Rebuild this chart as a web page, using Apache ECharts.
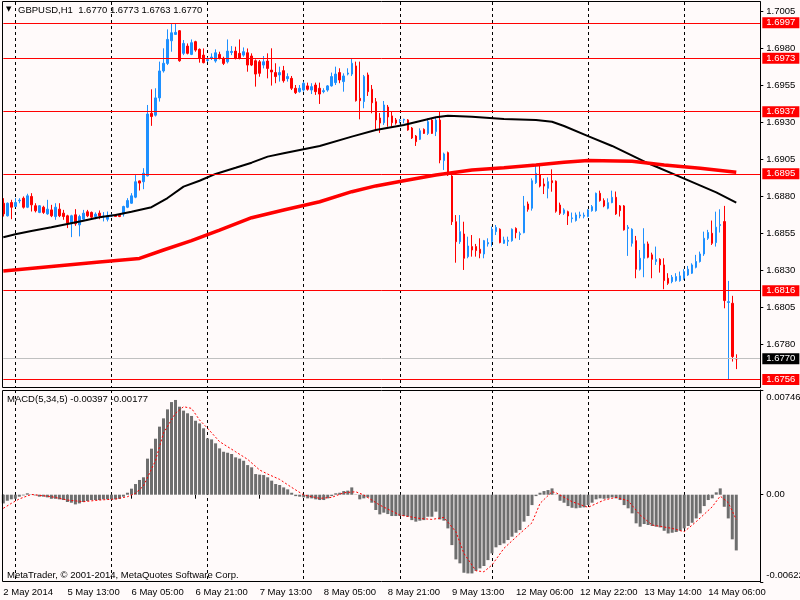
<!DOCTYPE html>
<html><head><meta charset="utf-8">
<script src="https://cdn.jsdelivr.net/npm/echarts@6/dist/echarts.min.js"></script>
<style>html,body{margin:0;padding:0;background:#fffafa}#c{width:800px;height:600px}</style>
</head><body><div id="c"></div>
<script>
const symbolName = 'GBPUSD,H1';
const macdParams = '5,34,5';
const footerText = 'MetaTrader, \u00A9 2001-2014, MetaQuotes Software Corp.';
// trading sessions: [day, first hour, last hour]; the last 6 hours of 14 May are empty chart shift
const sessions = [['2 May',20,22],['5 May',0,23],['6 May',0,23],['7 May',0,23],['8 May',0,23],['9 May',0,22],['12 May',0,23],['13 May',0,23],['14 May',0,19]];
const xTickIdx = [0,16,32,48,64,80,96,112,128,144,160,176];
const xTickLabels = ['2 May 2014','5 May 13:00','6 May 05:00','6 May 21:00','7 May 13:00','8 May 05:00','8 May 21:00','9 May 13:00','12 May 06:00','12 May 22:00','13 May 14:00','14 May 06:00'];
const dayStartIdx = [3,27,51,75,99,122,146,170];
const priceTicks = [1.7005,1.6980,1.6955,1.6930,1.6905,1.6880,1.6855,1.6830,1.6805,1.6780];
const levels = [1.6997,1.6973,1.6937,1.6895,1.6816,1.6756];
const macdTicks = [0.00746,0,-0.00622];
const macdTickLabels = ['0.00746','0.00','-0.00622'];
// [open, high, low, close]
const candles = [
[1.68751,1.68785,1.68661,1.68679],[1.68666,1.68756,1.68661,1.68751],[1.68756,1.68774,1.68643,1.68724],[1.68729,1.68785,1.68724,1.68756],[1.68767,1.68785,1.68751,1.68772],
[1.68785,1.68797,1.68715,1.68724],[1.68724,1.68815,1.68718,1.68801],[1.68797,1.68819,1.68695,1.68740],[1.68734,1.68751,1.68689,1.68700],[1.68689,1.68738,1.68684,1.68734],
[1.68724,1.68734,1.68679,1.68689],[1.68679,1.68774,1.68673,1.68711],[1.68706,1.68740,1.68657,1.68666],[1.68661,1.68751,1.68639,1.68724],[1.68711,1.68751,1.68657,1.68666],
[1.68684,1.68706,1.68639,1.68661],[1.68666,1.68673,1.68583,1.68617],[1.68612,1.68673,1.68522,1.68666],[1.68673,1.68711,1.68598,1.68612],[1.68605,1.68673,1.68527,1.68661],
[1.68643,1.68706,1.68639,1.68684],[1.68693,1.68706,1.68657,1.68666],[1.68689,1.68695,1.68643,1.68657],[1.68661,1.68689,1.68643,1.68677],[1.68684,1.68702,1.68643,1.68666],
[1.68659,1.68691,1.68628,1.68664],[1.68643,1.68695,1.68628,1.68666],[1.68664,1.68679,1.68657,1.68668],[1.68673,1.68675,1.68659,1.68661],[1.68670,1.68675,1.68657,1.68661],
[1.68679,1.68734,1.68661,1.68729],[1.68724,1.68785,1.68718,1.68769],[1.68751,1.68819,1.68747,1.68801],[1.68792,1.68941,1.68785,1.68896],[1.68902,1.68904,1.68837,1.68887],
[1.68896,1.68988,1.68846,1.68954],[1.68936,1.69415,1.68932,1.69354],[1.69359,1.69521,1.69274,1.69337],[1.69346,1.69528,1.69337,1.69463],[1.69463,1.69708,1.69438,1.69645],
[1.69645,1.69798,1.69634,1.69697],[1.69696,1.69926,1.69685,1.69858],[1.69849,1.69962,1.69775,1.69903],[1.69892,1.69962,1.69888,1.69906],[1.69917,1.69921,1.69707,1.69714],
[1.69764,1.69854,1.69752,1.69831],[1.69813,1.69831,1.69757,1.69764],[1.69757,1.69858,1.69752,1.69836],[1.69843,1.69849,1.69775,1.69786],[1.69791,1.69797,1.69701,1.69730],
[1.69752,1.69797,1.69696,1.69701],[1.69716,1.69737,1.69705,1.69721],[1.69732,1.69764,1.69719,1.69739],[1.69712,1.69791,1.69701,1.69768],[1.69757,1.69775,1.69723,1.69730],
[1.69730,1.69741,1.69685,1.69696],[1.69707,1.69858,1.69696,1.69779],[1.69770,1.69813,1.69752,1.69777],[1.69779,1.69809,1.69723,1.69730],[1.69764,1.69858,1.69723,1.69730],
[1.69752,1.69804,1.69741,1.69775],[1.69768,1.69797,1.69640,1.69685],[1.69746,1.69764,1.69678,1.69685],[1.69714,1.69723,1.69539,1.69624],[1.69707,1.69719,1.69606,1.69629],
[1.69685,1.69746,1.69662,1.69707],[1.69712,1.69764,1.69595,1.69662],[1.69651,1.69798,1.69546,1.69638],[1.69634,1.69697,1.69562,1.69607],[1.69618,1.69674,1.69573,1.69634],
[1.69647,1.69679,1.69566,1.69579],[1.69593,1.69629,1.69573,1.69607],[1.69595,1.69611,1.69516,1.69528],[1.69528,1.69550,1.69489,1.69498],[1.69505,1.69550,1.69498,1.69528],
[1.69516,1.69573,1.69505,1.69562],[1.69544,1.69566,1.69512,1.69521],[1.69516,1.69562,1.69489,1.69539],[1.69550,1.69566,1.69483,1.69505],[1.69528,1.69566,1.69422,1.69489],
[1.69505,1.69528,1.69494,1.69512],[1.69516,1.69550,1.69505,1.69544],[1.69544,1.69634,1.69539,1.69607],[1.69566,1.69674,1.69550,1.69624],[1.69634,1.69663,1.69562,1.69584],
[1.69573,1.69629,1.69505,1.69611],[1.69624,1.69663,1.69615,1.69631],[1.69624,1.69730,1.69611,1.69697],[1.69679,1.69708,1.69438,1.69444],[1.69460,1.69708,1.69318,1.69444],
[1.69438,1.69618,1.69393,1.69607],[1.69618,1.69634,1.69476,1.69505],[1.69521,1.69550,1.69359,1.69430],[1.69437,1.69462,1.69240,1.69314],[1.69327,1.69361,1.69226,1.69293],
[1.69295,1.69442,1.69280,1.69415],[1.69401,1.69415,1.69268,1.69334],[1.69341,1.69370,1.69268,1.69295],[1.69314,1.69327,1.69282,1.69293],[1.69309,1.69320,1.69291,1.69313],
[1.69313,1.69322,1.69291,1.69318],[1.69314,1.69320,1.69241,1.69246],[1.69259,1.69266,1.69185,1.69192],[1.69205,1.69212,1.69138,1.69167],[1.69183,1.69257,1.69178,1.69241],
[1.69250,1.69257,1.69219,1.69223],[1.69223,1.69325,1.69212,1.69302],[1.69313,1.69325,1.69219,1.69223],[1.69235,1.69331,1.69205,1.69313],[1.69313,1.69370,1.69021,1.69043],
[1.69039,1.69093,1.68976,1.69084],[1.69093,1.69100,1.68935,1.68942],[1.68935,1.68942,1.68604,1.68626],[1.68626,1.68671,1.68349,1.68491],[1.68491,1.68671,1.68476,1.68559],
[1.68543,1.68626,1.68300,1.68379],[1.68390,1.68525,1.68379,1.68462],[1.68458,1.68536,1.68390,1.68435],[1.68458,1.68476,1.68390,1.68431],[1.68440,1.68514,1.68379,1.68413],
[1.68408,1.68503,1.68379,1.68498],[1.68476,1.68514,1.68458,1.68485],[1.68491,1.68593,1.68458,1.68575],[1.68559,1.68604,1.68536,1.68588],[1.68575,1.68581,1.68480,1.68485],
[1.68480,1.68525,1.68476,1.68503],[1.68494,1.68525,1.68462,1.68500],[1.68498,1.68581,1.68491,1.68575],[1.68581,1.68588,1.68514,1.68552],[1.68539,1.68559,1.68503,1.68545],
[1.68552,1.68800,1.68548,1.68732],[1.68746,1.68762,1.68694,1.68710],[1.68717,1.68919,1.68701,1.68903],[1.68890,1.69016,1.68881,1.68953],[1.68942,1.69003,1.68858,1.68867],
[1.68881,1.68919,1.68813,1.68867],[1.68852,1.68926,1.68784,1.68897],[1.68903,1.68980,1.68829,1.68890],[1.68900,1.68905,1.68687,1.68697],[1.68739,1.68755,1.68672,1.68683],
[1.68683,1.68717,1.68672,1.68706],[1.68694,1.68701,1.68604,1.68665],[1.68647,1.68688,1.68620,1.68652],[1.68634,1.68688,1.68627,1.68672],[1.68665,1.68694,1.68649,1.68672],
[1.68663,1.68688,1.68649,1.68670],[1.68661,1.68710,1.68656,1.68706],[1.68701,1.68739,1.68694,1.68728],[1.68701,1.68823,1.68694,1.68818],[1.68818,1.68836,1.68762,1.68769],
[1.68769,1.68784,1.68724,1.68733],[1.68717,1.68784,1.68710,1.68755],[1.68755,1.68836,1.68751,1.68791],[1.68791,1.68830,1.68672,1.68679],[1.68733,1.68739,1.68661,1.68701],
[1.68733,1.68739,1.68566,1.68571],[1.68580,1.68604,1.68395,1.68589],[1.68480,1.68582,1.68458,1.68575],[1.68498,1.68530,1.68244,1.68305],[1.68305,1.68435,1.68296,1.68379],
[1.68379,1.68582,1.68251,1.68476],[1.68476,1.68492,1.68379,1.68386],[1.68402,1.68417,1.68244,1.68372],[1.68357,1.68458,1.68334,1.68372],[1.68372,1.68379,1.68282,1.68334],
[1.68334,1.68379,1.68170,1.68228],[1.68244,1.68278,1.68199,1.68210],[1.68221,1.68266,1.68210,1.68251],[1.68228,1.68278,1.68221,1.68255],[1.68228,1.68289,1.68221,1.68260],
[1.68244,1.68305,1.68233,1.68289],[1.68266,1.68327,1.68260,1.68305],[1.68278,1.68345,1.68273,1.68334],[1.68318,1.68402,1.68311,1.68357],[1.68357,1.68424,1.68350,1.68408],
[1.68408,1.68559,1.68395,1.68514],[1.68514,1.68571,1.68503,1.68553],[1.68548,1.68634,1.68469,1.68480],[1.68485,1.68694,1.68458,1.68589],[1.68600,1.68710,1.68553,1.68607],
[1.68627,1.68733,1.68041,1.68093],[1.68080,1.68226,1.67562,1.68086],[1.68075,1.68125,1.67681,1.67715],[1.67700,1.67730,1.67630,1.67700]
];
// moving averages read at sample bars: [bar index, value]
const maBlack = [[0,1.68521],[3,1.68541],[7,1.68564],[12,1.68588],[16,1.68611],[20,1.68633],[24,1.68656],[28,1.68672],[32,1.68694],[37,1.68724],[41,1.68786],[45,1.68863],[49,1.68903],[53,1.68949],[58,1.68991],[62,1.69025],[66,1.69066],[70,1.69089],[79,1.69138],[87,1.69201],[93,1.69246],[100,1.69280],[108,1.69332],[111,1.69343],[117,1.69336],[125,1.69320],[133,1.69314],[137,1.69302],[140,1.69273],[146,1.69205],[152,1.69138],[161,1.69021],[170,1.68917],[178,1.68824],[183,1.68755]];
const maRed = [[0,1.68293],[12,1.68324],[24,1.68354],[34,1.68378],[40,1.68435],[47,1.68498],[54,1.68570],[62,1.68653],[70,1.68705],[79,1.68761],[87,1.68829],[93,1.68868],[100,1.68903],[108,1.68942],[117,1.68976],[125,1.68991],[133,1.69009],[140,1.69028],[146,1.69039],[157,1.69034],[165,1.69009],[174,1.68987],[183,1.68960]];
const macdHist = [
-0.00062,-0.00043,-0.00033,-0.00029,-0.00014,-0.00005,0.00010,0.00002,-0.00005,-0.00014,
-0.00014,-0.00019,-0.00029,-0.00029,-0.00033,-0.00038,-0.00052,-0.00057,-0.00069,-0.00062,
-0.00052,-0.00045,-0.00038,-0.00038,-0.00038,-0.00033,-0.00033,-0.00033,-0.00033,-0.00029,
-0.00014,0.00014,0.00043,0.00076,0.00105,0.00124,0.00257,0.00328,0.00399,0.00485,
0.00544,0.00608,0.00660,0.00675,0.00627,0.00599,0.00580,0.00561,0.00527,0.00508,
0.00473,0.00401,0.00394,0.00366,0.00330,0.00306,0.00299,0.00290,0.00266,0.00257,
0.00242,0.00211,0.00195,0.00147,0.00143,0.00140,0.00124,0.00100,0.00076,0.00069,
0.00052,0.00038,0.00014,-0.00010,-0.00014,-0.00019,-0.00026,-0.00026,-0.00033,-0.00038,
-0.00038,-0.00026,-0.00010,0.00010,0.00014,0.00026,0.00029,0.00052,-0.00002,-0.00033,
-0.00026,-0.00019,-0.00057,-0.00109,-0.00140,-0.00128,-0.00138,-0.00152,-0.00152,-0.00152,
-0.00152,-0.00157,-0.00181,-0.00192,-0.00185,-0.00181,-0.00157,-0.00157,-0.00121,-0.00176,
-0.00185,-0.00240,-0.00359,-0.00461,-0.00489,-0.00556,-0.00561,-0.00561,-0.00542,-0.00525,
-0.00508,-0.00466,-0.00418,-0.00375,-0.00359,-0.00347,-0.00323,-0.00299,-0.00271,-0.00252,
-0.00192,-0.00152,-0.00074,-0.00010,0.00014,0.00026,0.00033,0.00045,-0.00002,-0.00043,
-0.00057,-0.00081,-0.00093,-0.00097,-0.00093,-0.00090,-0.00074,-0.00057,-0.00033,-0.00026,
-0.00029,-0.00026,-0.00019,-0.00026,-0.00038,-0.00074,-0.00097,-0.00133,-0.00204,-0.00228,
-0.00209,-0.00216,-0.00223,-0.00228,-0.00233,-0.00257,-0.00276,-0.00271,-0.00266,-0.00257,
-0.00240,-0.00223,-0.00200,-0.00169,-0.00133,-0.00081,-0.00038,-0.00026,0.00017,0.00045,
-0.00086,-0.00169,-0.00318,-0.00397
];
const macdSignal = [[0,-0.00097],[2,-0.00062],[4,-0.00030],[7,0.00002],[12,-0.00014],[16,-0.00038],[20,-0.00050],[24,-0.00038],[28,-0.00031],[31,-0.00014],[33,0.00010],[35,0.00062],[38,0.00243],[40,0.00440],[43,0.00580],[45,0.00627],[47,0.00615],[49,0.00532],[51,0.00473],[54,0.00378],[58,0.00306],[61,0.00252],[64,0.00176],[66,0.00147],[69,0.00109],[72,0.00052],[75,-0.00002],[79,-0.00026],[82,-0.00019],[85,0.00014],[88,0.00021],[90,-0.00002],[94,-0.00074],[99,-0.00145],[104,-0.00169],[107,-0.00176],[110,-0.00162],[113,-0.00264],[115,-0.00418],[118,-0.00542],[120,-0.00549],[122,-0.00501],[125,-0.00382],[129,-0.00276],[132,-0.00200],[134,-0.00062],[137,0.00021],[138,0.00014],[142,-0.00050],[146,-0.00090],[150,-0.00038],[153,-0.00019],[156,-0.00043],[159,-0.00145],[162,-0.00216],[167,-0.00240],[170,-0.00264],[173,-0.00192],[177,-0.00086],[179,-0.00010],[181,-0.00057],[183,-0.00177]];

const categories = [];
sessions.forEach(([d,h0,h1]) => { for (let h = h0; h <= h1; h++) categories.push(d + ' ' + String(h).padStart(2,'0') + ':00'); });
const lastBar = candles[candles.length - 1];
const bid = lastBar[3];
const FONT = 'Liberation Sans, Arial, sans-serif';
const FS = 9.5;
const isTick = i => xTickIdx.includes(i);
const isDay = i => dayStartIdx.includes(i);
const dashed = {color:'#000', type:[3,3], width:1};
const txt = {fontSize:FS, color:'#000', fontWeight:'normal', fontFamily:FONT, lineHeight:11};
const boxLabel = bg => ({show:true, position:'end', distance:2, formatter:p => Number(p.value).toFixed(4), color:'#fff', backgroundColor:bg, padding:[1,4,0,4], fontSize:FS, lineHeight:10, fontFamily:FONT});

const chart = echarts.init(document.getElementById('c'), null, {renderer:'canvas'});
chart.setOption({
  backgroundColor:'#fffafa',
  animation:false,
  textStyle:{fontFamily:FONT},
  title:[
    {text:'\u25BC', left:6, top:6, padding:0, textStyle:{fontSize:7, color:'#000', fontWeight:'normal', fontFamily:'DejaVu Sans'}},
    {text: symbolName + '  ' + lastBar.map(v => v.toFixed(4)).join(' '), left:18, top:5, padding:0, textStyle:txt},
    {text: 'MACD(' + macdParams + ') ' + macdHist[macdHist.length-1].toFixed(5) + ' ' + macdSignal[macdSignal.length-1][1].toFixed(5), left:7, top:394, padding:0, textStyle:txt},
    {text: footerText, left:7, top:569.5, padding:0, textStyle:txt}
  ],
  grid:[
    {left:3.3, top:2, width:757, height:385, outerBoundsMode:'none', containLabel:false},
    {left:3.3, top:390, width:757, height:192, outerBoundsMode:'none', containLabel:false}
  ],
  xAxis:[
    {type:'category', gridIndex:0, data:categories, boundaryGap:false,
     axisLine:{show:false}, axisTick:{show:false}, axisLabel:{show:false},
     splitLine:{show:true, interval:(i) => isDay(i), lineStyle:dashed}},
    {type:'category', gridIndex:1, data:categories, boundaryGap:false,
     axisLine:{show:false},
     axisTick:{show:true, interval:(i) => isTick(i), length:4, lineStyle:{color:'#000'}},
     axisLabel:{show:true, interval:(i) => isTick(i), align:'left', margin:5, fontSize:FS, color:'#000', fontFamily:FONT,
       formatter:(v, idx) => { const k = xTickIdx.indexOf(idx); return k >= 0 ? xTickLabels[k] : ''; }},
     splitLine:{show:true, interval:(i) => isDay(i), lineStyle:dashed}}
  ],
  yAxis:[
    {type:'value', gridIndex:0, position:'right', min:1.67509, max:1.70111, scale:true,
     axisLine:{show:true, lineStyle:{color:'#000'}},
     axisTick:{show:true, customValues:priceTicks, length:3, lineStyle:{color:'#000'}},
     axisLabel:{customValues:priceTicks, formatter:v => v.toFixed(4), margin:6, fontSize:FS, color:'#000', fontFamily:FONT},
     splitLine:{show:false}},
    {type:'value', gridIndex:1, position:'right', min:-0.00622, max:0.00746, scale:true,
     axisLine:{show:true, lineStyle:{color:'#000'}},
     axisTick:{show:true, customValues:macdTicks, length:3, lineStyle:{color:'#000'}},
     axisLabel:{customValues:macdTicks, margin:6, fontSize:FS, color:'#000', fontFamily:FONT,
       formatter:v => {
         let k = 0, best = 1;
         macdTicks.forEach((t, j) => { if (Math.abs(t - v) < best) { best = Math.abs(t - v); k = j; } });
         const key = k === 0 ? 't' : (k === 2 ? 'b' : 'm');
         return '{' + key + '|' + macdTickLabels[k] + '}';
       },
       rich:{
         t:{fontSize:FS, color:'#000', fontFamily:FONT, padding:[14,0,0,0]},
         m:{fontSize:FS, color:'#000', fontFamily:FONT},
         b:{fontSize:FS, color:'#000', fontFamily:FONT, padding:[0,0,14,0]}
       }},
     splitLine:{show:false}}
  ],
  graphic:[
    {type:'rect', z:50, silent:true, shape:{x:2.5, y:1.5, width:758, height:386}, style:{fill:null, stroke:'#000', lineWidth:1}},
    {type:'rect', z:50, silent:true, shape:{x:2.5, y:390.5, width:758, height:191}, style:{fill:null, stroke:'#000', lineWidth:1}}
  ],
  series:[
    {type:'candlestick', name:'price', xAxisIndex:0, yAxisIndex:0, clip:false, barWidth:2,
     data: candles.map(c => [c[0], c[3], c[2], c[1]]),
     itemStyle:{color:'#1e90ff', color0:'#ff0000', borderColor:'#1e90ff', borderColor0:'#ff0000', borderWidth:1},
     markLine:{silent:true, symbol:['none','none'], animation:false, precision:5,
       data: levels.map(v => ({yAxis:v, lineStyle:{color:'#ff0000', width:1, type:'solid'}, label:boxLabel('#ff0000')}))
         .concat([{yAxis:bid, lineStyle:{color:'#c0c0c0', width:1, type:'solid'}, label:boxLabel('#000')}])
     }},
    {type:'line', name:'MA black', xAxisIndex:0, yAxisIndex:0, data:maBlack, symbol:'none', z:3,
     lineStyle:{color:'#000', width:2}},
    {type:'line', name:'MA red', xAxisIndex:0, yAxisIndex:0, data:maRed, symbol:'none', z:3,
     lineStyle:{color:'#ff0000', width:3.5}},
    {type:'bar', name:'MACD', xAxisIndex:1, yAxisIndex:1, data:macdHist, barWidth:3, clip:false,
     itemStyle:{color:'#6e6e6e'}},
    {type:'line', name:'Signal', xAxisIndex:1, yAxisIndex:1, data:macdSignal, symbol:'none', z:3,
     lineStyle:{color:'#ff0000', width:1, type:[2,2]}}
  ]
});
</script>
</body></html>
